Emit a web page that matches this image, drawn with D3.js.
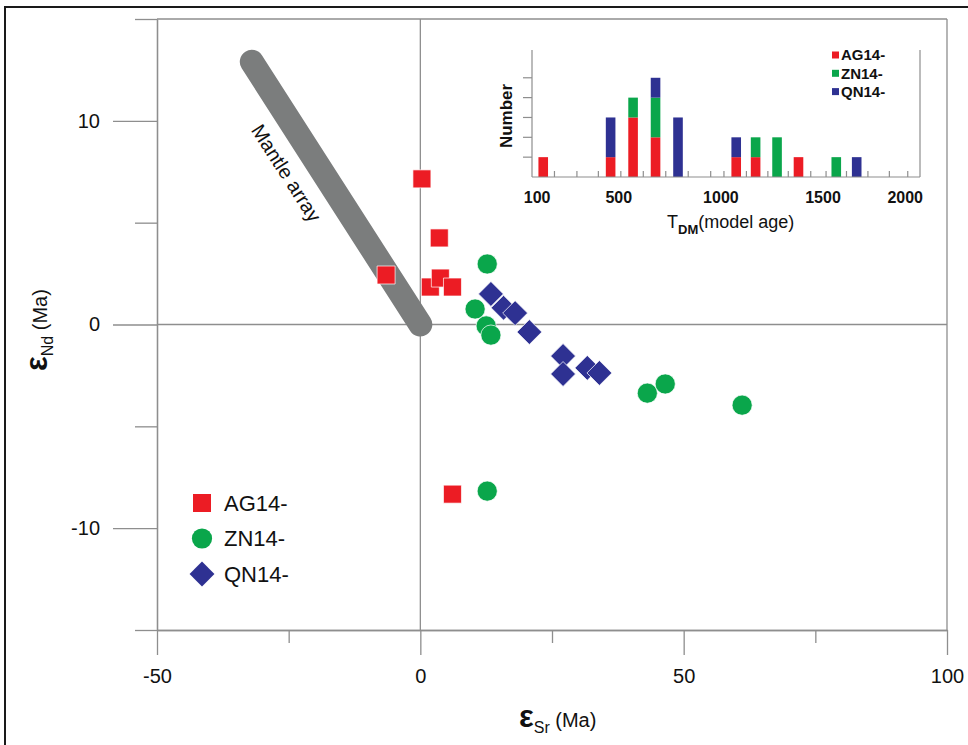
<!DOCTYPE html>
<html>
<head>
<meta charset="utf-8">
<script src="https://cdn.jsdelivr.net/npm/d3@7"></script>
<style>
	body { margin: 0; background: #fff; }
	svg { display: block; }
	text { font-family: "Liberation Sans", Arial, sans-serif; fill: #111; }
</style>
</head>
<body>
<svg id="chart" width="968" height="745"></svg>
<script>

// main scatter: eSr / eNd
const agSr = [0.3, 3.6, -6.5, 1.9, 3.8, 6.1, 6.1]
const agNd = [7.15, 4.25, 2.43, 1.84, 2.28, 1.84, -8.33]
const znSr = [12.7, 10.4, 12.5, 13.4, 43.1, 46.5, 61.1, 12.7]
const znNd = [2.97, 0.76, -0.07, -0.52, -3.37, -2.92, -3.96, -8.18]
const qnSr = [13.4, 15.8, 18.0, 20.7, 27.1, 27.1, 31.7, 34.0]
const qnNd = [1.5, 0.82, 0.56, -0.37, -1.55, -2.43, -2.13, -2.38]

const mantleSr = [-32, 0]
const mantleNd = [12.9, 0]

const xMajor = [-50, 0, 50, 100]
const xMinor = [-25, 25, 75]
const yMajor = [-10, 0, 10]
const yMinor = [-15, -5, 5, 15]

// inset histogram: T_DM model age
const tdmBins = [130, 460, 570, 680, 790, 1075, 1170, 1275, 1380, 1565, 1665]
const agCount = [1, 1, 3, 2, 0, 1, 1, 0, 1, 0, 0]
const znCount = [0, 0, 1, 2, 0, 0, 1, 2, 0, 1, 0]
const qnCount = [0, 2, 0, 1, 3, 1, 0, 0, 0, 0, 1]
const tdmLabels = [100, 500, 1000, 1500, 2000]
const tdmMinor = [185, 295, 400, 510, 620, 730, 840, 950, 1015, 1125, 1230, 1330, 1440, 1515, 1615, 1720, 1825, 1915]
const countTicks = [1, 2, 3, 4, 5]

const groups = ["AG14-", "ZN14-", "QN14-"]
const colors = {"AG14-": "#ec1c24", "ZN14-": "#0aa64b", "QN14-": "#2e3192"}
const frameColor = "#8e8e8e"

const svg = d3.select("#chart")

// outer frame of the figure
svg.append("rect")
	.attr("x", 5).attr("y", 7)
	.attr("width", 1000).attr("height", 800)
	.attr("fill", "none").attr("stroke", "#1a1a1a").attr("stroke-width", 2)

const x = d3.scaleLinear().domain([-50, 100]).range([157, 947])
const y = d3.scaleLinear().domain([-15, 15]).range([630, 19])

// plain hyphen for negatives, like the original
const plain = (d) => String(d)

// axes, long ticks for labelled values and short ones in between
function styleAxis(g) {
	g.select(".domain").attr("stroke", frameColor).attr("stroke-width", 1.3)
	g.selectAll(".tick line").attr("stroke", frameColor).attr("stroke-width", 1.3)
	g.selectAll(".tick text").style("font-size", "20px").attr("fill", "#111")
}

svg.append("g")
	.attr("transform", "translate(0," + y(-15) + ")")
	.call(d3.axisBottom(x).tickValues(xMinor).tickSize(13).tickSizeOuter(0).tickFormat(""))
	.call(styleAxis)
svg.append("g")
	.attr("transform", "translate(0," + y(-15) + ")")
	.call(d3.axisBottom(x).tickValues(xMajor).tickSize(25).tickSizeOuter(0).tickPadding(14).tickFormat(plain))
	.call(styleAxis)

svg.append("g")
	.attr("transform", "translate(" + x(-50) + ",0)")
	.call(d3.axisLeft(y).tickValues(yMinor).tickSize(22).tickSizeOuter(0).tickFormat(""))
	.call(styleAxis)
svg.append("g")
	.attr("transform", "translate(" + x(-50) + ",0)")
	.call(d3.axisLeft(y).tickValues(yMajor).tickSize(44).tickSizeOuter(0).tickPadding(13).tickFormat(plain))
	.call(styleAxis)

// top and right frame lines, zero lines
const frame = svg.append("g").attr("stroke", frameColor).attr("stroke-width", 1.3)
frame.append("line").attr("x1", x(-50)).attr("x2", x(100)).attr("y1", y(15)).attr("y2", y(15))
frame.append("line").attr("x1", x(100)).attr("x2", x(100)).attr("y1", y(15)).attr("y2", y(-15))
frame.append("line").attr("x1", x(0)).attr("x2", x(0)).attr("y1", y(15)).attr("y2", y(-15))
frame.append("line").attr("x1", x(-50)).attr("x2", x(100)).attr("y1", y(0)).attr("y2", y(0))

// axis titles
const xTitle = svg.append("text").attr("x", 519).attr("y", 727)
xTitle.append("tspan").text("ε").style("font-size", "31px").style("font-weight", "bold")
xTitle.append("tspan").text("Sr").attr("dy", 6).style("font-size", "16px")
xTitle.append("tspan").text(" (Ma)").attr("dy", -6).style("font-size", "20px")

const yTitle = svg.append("text").attr("transform", "translate(47,371) rotate(-90)")
yTitle.append("tspan").text("ε").style("font-size", "31px").style("font-weight", "bold")
yTitle.append("tspan").text("Nd").attr("dy", 6).style("font-size", "16px")
yTitle.append("tspan").text(" (Ma)").attr("dy", -6).style("font-size", "20px")

// mantle array band
const mantle = mantleSr.map((d, i) => [d, mantleNd[i]])
svg.append("path")
	.datum(mantle)
	.attr("d", d3.line().x((d) => x(d[0])).y((d) => y(d[1])))
	.attr("fill", "none")
	.attr("stroke", "#7b7d7d")
	.attr("stroke-width", 24)
	.attr("stroke-linecap", "round")

const p0 = [x(mantle[0][0]), y(mantle[0][1])]
const p1 = [x(mantle[1][0]), y(mantle[1][1])]
const len = Math.hypot(p1[0] - p0[0], p1[1] - p0[1])
const ux = (p1[0] - p0[0]) / len, uy = (p1[1] - p0[1]) / len
const angle = Math.atan2(uy, ux) * 180 / Math.PI
const lx = p0[0] + ux * len * 0.36 - uy * 31
const ly = p0[1] + uy * len * 0.36 + ux * 31
svg.append("text")
	.attr("transform", "translate(" + lx + "," + ly + ") rotate(" + angle + ")")
	.attr("text-anchor", "middle")
	.attr("dy", "0.35em")
	.style("font-size", "20px")
	.text("Mantle array")

// scatter points
function symbolPath(group) {
	if (group === "AG14-") return d3.symbol(d3.symbolSquare, 324)()
	if (group === "ZN14-") return d3.symbol(d3.symbolCircle, 320)()
	return d3.symbol(d3.symbolSquare, 310)()
}
function symbolTransform(group, px, py) {
	return "translate(" + px + "," + py + ")" + (group === "QN14-" ? " rotate(45)" : "")
}

const series = [
	{group: "ZN14-", sr: znSr, nd: znNd},
	{group: "QN14-", sr: qnSr, nd: qnNd},
	{group: "AG14-", sr: agSr, nd: agNd}
]
series.forEach((s) => {
	svg.append("g").selectAll("path")
		.data(s.sr.map((d, i) => ({sr: d, nd: s.nd[i]})))
		.enter().append("path")
			.attr("d", symbolPath(s.group))
			.attr("transform", (d) => symbolTransform(s.group, x(d.sr), y(d.nd)))
			.attr("fill", colors[s.group])
			.attr("stroke", "#fff")
			.attr("stroke-width", 0.7)
})

// legend
const legend = svg.append("g").selectAll("g")
	.data(groups)
	.enter().append("g")
		.attr("transform", (d, i) => "translate(202," + (503 + i * 35.5) + ")")
legend.append("path")
	.attr("d", (d) => symbolPath(d))
	.attr("transform", (d) => symbolTransform(d, 0, 0))
	.attr("fill", (d) => colors[d])
legend.append("text")
	.attr("x", 22)
	.attr("dy", "0.36em")
	.style("font-size", "22px")
	.text((d) => d)

// inset histogram
const ix = d3.scaleLinear().domain([75, 1975]).range([532, 920])
const iy = d3.scaleLinear().domain([0, 6.4]).range([177, 50])

const inset = svg.append("g")
const rows = tdmBins.map((b, i) => ({bin: b, "AG14-": agCount[i], "ZN14-": znCount[i], "QN14-": qnCount[i]}))
const stacked = d3.stack().keys(groups)(rows)

inset.selectAll("g.layer")
	.data(stacked)
	.enter().append("g")
		.attr("class", "layer")
		.attr("fill", (d) => colors[d.key])
	.selectAll("rect")
	.data((d) => d.filter((e) => e[1] > e[0]))
	.enter().append("rect")
		.attr("x", (d) => ix(d.data.bin) - 4.8)
		.attr("width", 9.6)
		.attr("y", (d) => iy(d[1]))
		.attr("height", (d) => iy(d[0]) - iy(d[1]))

const ibox = inset.append("g").attr("stroke", frameColor).attr("stroke-width", 1.2)
ibox.append("line").attr("x1", ix.range()[0]).attr("x2", ix.range()[1]).attr("y1", iy(0)).attr("y2", iy(0))
ibox.append("line").attr("x1", ix.range()[0]).attr("x2", ix.range()[0]).attr("y1", iy(0)).attr("y2", iy(6.4))
ibox.append("line").attr("x1", ix.range()[1]).attr("x2", ix.range()[1]).attr("y1", iy(0)).attr("y2", iy(6.4))

ibox.selectAll("line.minor")
	.data(tdmMinor)
	.enter().append("line")
		.attr("class", "minor")
		.attr("x1", (d) => ix(d)).attr("x2", (d) => ix(d))
		.attr("y1", iy(0)).attr("y2", iy(0) - 6)
ibox.selectAll("line.count")
	.data(countTicks)
	.enter().append("line")
		.attr("class", "count")
		.attr("x1", ix.range()[0] - 9).attr("x2", ix.range()[0])
		.attr("y1", (d) => iy(d)).attr("y2", (d) => iy(d))

inset.selectAll("text.tdm")
	.data(tdmLabels)
	.enter().append("text")
		.attr("class", "tdm")
		.attr("x", (d) => d === 2000 ? ix.range()[1] + 3 : ix(d))
		.attr("y", 203)
		.attr("text-anchor", (d) => d === 2000 ? "end" : "middle")
		.style("font-size", "16px")
		.style("font-weight", "bold")
		.text((d) => d)

inset.append("text")
	.attr("transform", "translate(512,116) rotate(-90)")
	.attr("text-anchor", "middle")
	.style("font-size", "17px")
	.style("font-weight", "bold")
	.text("Number")

const tTitle = inset.append("text").attr("x", 667).attr("y", 228)
tTitle.append("tspan").text("T").style("font-size", "18px")
tTitle.append("tspan").text("DM").attr("dy", 6).style("font-size", "13px").style("font-weight", "bold")
tTitle.append("tspan").text("(model age)").attr("dy", -6).style("font-size", "18px")

const ileg = inset.append("g").selectAll("g")
	.data(groups)
	.enter().append("g")
		.attr("transform", (d, i) => "translate(832," + (55 + i * 18.3) + ")")
ileg.append("rect")
	.attr("x", 0).attr("y", -3.5)
	.attr("width", 7).attr("height", 7)
	.attr("fill", (d) => colors[d])
ileg.append("text")
	.attr("x", 9)
	.attr("dy", "0.36em")
	.style("font-size", "15px")
	.style("font-weight", "bold")
	.text((d) => d)

</script>
</body>
</html>
